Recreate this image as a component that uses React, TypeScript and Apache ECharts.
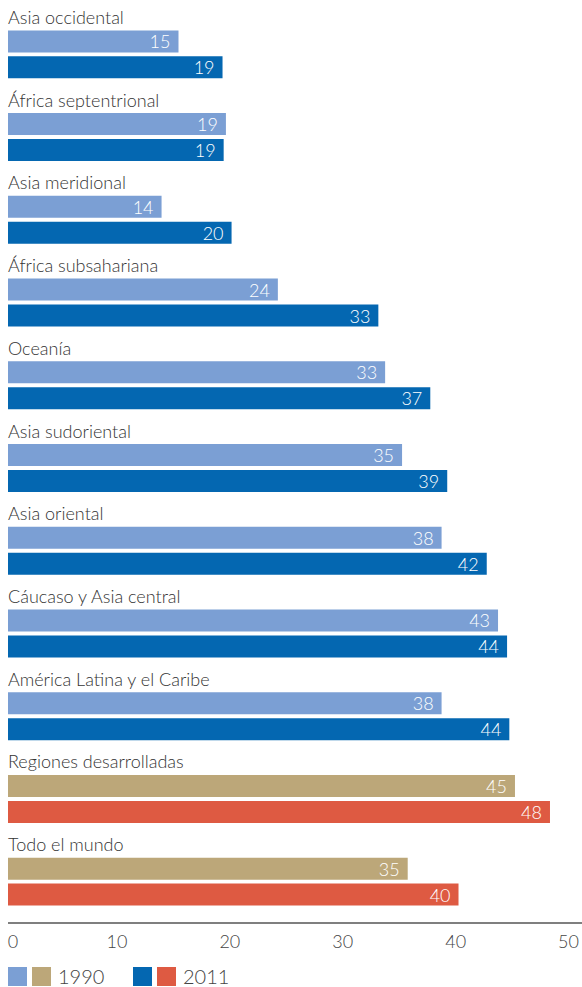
import React, { useEffect, useRef } from "react";
import * as echarts from "echarts";

const categories = [
  "Asia occidental",
  "África septentrional",
  "Asia meridional",
  "África subsahariana",
  "Oceanía",
  "Asia sudoriental",
  "Asia oriental",
  "Cáucaso y Asia central",
  "América Latina y el Caribe",
  "Regiones desarrolladas",
  "Todo el mundo",
];
const values1990 = [15.1, 19.3, 13.6, 23.9, 33.4, 34.9, 38.4, 43.4, 38.4, 44.9, 35.4];
const values2011 = [19.0, 19.1, 19.8, 32.8, 37.4, 38.9, 42.4, 44.2, 44.4, 48.0, 39.9];
const xTicks = [0, 10, 20, 30, 40, 50];
const legendYears = ["1990", "2011"];

const C1990 = "#7b9fd4";
const C2011 = "#0467b1";
const C1990b = "#bca779";
const C2011b = "#de5a42";
const highlight = ["Regiones desarrolladas", "Todo el mundo"];
const FONT = "Lato, 'Open Sans', sans-serif";

export default function App() {
  const ref = useRef<HTMLDivElement>(null);
  useEffect(() => {
    if (!ref.current) return;
    const chart = echarts.init(ref.current, null, { renderer: "svg" });
    const mk = (vals: number[], base: string, alt: string) =>
      vals.map((v, i) => ({
        value: v,
        itemStyle: { color: highlight.includes(categories[i]) ? alt : base },
      }));
    const label = {
      show: true,
      position: "insideRight",
      distance: 8,
      color: "#ffffff",
      fontSize: 18,
      fontFamily: FONT,
      fontWeight: 300,
      formatter: (p: any) => String(Math.round(p.value)),
    };
    chart.setOption({
      animation: false,
      grid: { left: 8, right: 8, top: 13, bottom: 64, containLabel: false },
      xAxis: {
        type: "value",
        min: 0,
        max: xTicks[xTicks.length - 1],
        interval: 10,
        splitLine: { show: false },
        axisTick: { show: false },
        axisLine: { show: false },
        axisLabel: {
          margin: 9,
          color: "#444",
          fontSize: 18,
          fontFamily: FONT,
          fontWeight: 300,
          formatter: (v: number) => (v === 0 ? "{z|0}" : "{n|" + v + "}"),
          rich: {
            z: { padding: [0, 0, 0, 10], fontSize: 18, fontFamily: FONT, fontWeight: 300, color: "#444" },
            n: { padding: [0, 8, 0, 0], fontSize: 18, fontFamily: FONT, fontWeight: 300, color: "#444" },
          },
        },
      },
      yAxis: {
        type: "category",
        inverse: true,
        data: categories,
        axisLine: { show: false },
        axisTick: { show: false },
        axisLabel: {
          inside: true,
          margin: 0,
          interval: 0,
          showMinLabel: true,
          showMaxLabel: true,
          hideOverlap: false,
          formatter: (v: string) => "{t|" + v + "}\n{s| }",
          rich: {
            t: { color: "#333", fontSize: 18, fontFamily: FONT, fontWeight: 300, lineHeight: 20, height: 20, align: "left" },
            s: { height: 75, lineHeight: 75, fontSize: 10 },
          },
        },
      },
      series: [
        {
          type: "bar",
          name: legendYears[0],
          data: mk(values1990, C1990, C1990b),
          barWidth: 22,
          barGap: "18%",
          label,
        },
        {
          type: "bar",
          name: legendYears[1],
          data: mk(values2011, C2011, C2011b),
          barWidth: 22,
          barGap: "18%",
          label,
        },
      ],
      graphic: [
        { type: "line", shape: { x1: 8, y1: 923, x2: 582, y2: 923 }, style: { stroke: "#555", lineWidth: 1.4 } },
        { type: "rect", shape: { x: 8, y: 967, width: 19, height: 19 }, style: { fill: C1990 } },
        { type: "rect", shape: { x: 32, y: 967, width: 19, height: 19 }, style: { fill: C1990b } },
        {
          type: "text",
          x: 58,
          y: 976,
          style: { text: legendYears[0], fill: "#444", fontSize: 20, lineHeight: 18, fontFamily: FONT, fontWeight: 300, verticalAlign: "middle" },
        },
        { type: "rect", shape: { x: 133, y: 967, width: 19, height: 19 }, style: { fill: C2011 } },
        { type: "rect", shape: { x: 157, y: 967, width: 19, height: 19 }, style: { fill: C2011b } },
        {
          type: "text",
          x: 183,
          y: 976,
          style: { text: legendYears[1], fill: "#444", fontSize: 20, lineHeight: 18, fontFamily: FONT, fontWeight: 300, verticalAlign: "middle" },
        },
      ],
    });
    return () => chart.dispose();
  }, []);
  return <div ref={ref} style={{ width: 582, height: 987, position: "absolute", left: 0, top: 0 }} />;
}
